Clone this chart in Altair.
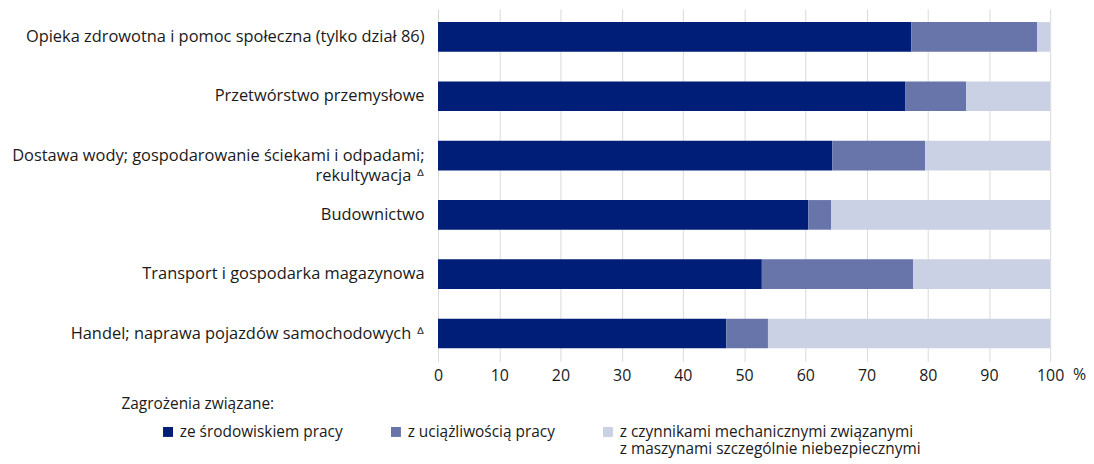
import altair as alt
import pandas as pd

categories = [
    "Opieka zdrowotna i pomoc społeczna (tylko dział 86)",
    "Przetwórstwo przemysłowe",
    "Dostawa wody; gospodarowanie ściekami i odpadami;|rekultywacja ᐞ",
    "Budownictwo",
    "Transport i gospodarka magazynowa",
    "Handel; naprawa pojazdów samochodowych ᐞ",
]
series = [
    "ze środowiskiem pracy",
    "z uciążliwością pracy",
    "z czynnikami mechanicznymi związanymi|z maszynami szczególnie niebezpiecznymi",
]
v_srodowisko = [77.3, 76.3, 64.4, 60.5, 52.9, 47.1]
v_uciazliwosc = [20.6, 10.0, 15.2, 3.7, 24.7, 6.8]
v_mechaniczne = [2.1, 13.7, 20.4, 35.8, 22.4, 46.1]
colors = ["#001E78", "#6775AB", "#CBD1E4"]
x_ticks = [0, 10, 20, 30, 40, 50, 60, 70, 80, 90, 100]

rows = []
for i, c in enumerate(categories):
    for j, (s, vals) in enumerate(zip(series, [v_srodowisko, v_uciazliwosc, v_mechaniczne])):
        rows.append({"cat": c, "series": s, "value": vals[i], "ord": j})
df = pd.DataFrame(rows)

FONT = "Open Sans"
TXT = "#1a1a1a"
W, H = 615, 354

legend_label_expr = (
    "split(datum.label + (indexof(datum.label, '|') < 0 ? '| ' : ''), '|')"
)

bars = alt.Chart(df).mark_bar().encode(
    y=alt.Y("cat:N", sort=categories, title=None,
            scale=alt.Scale(paddingInner=0.5, paddingOuter=0.22),
            axis=alt.Axis(labelExpr="split(datum.label, '|')", labelLimit=500,
                          labelFontSize=16.5, labelFont=FONT, labelColor=TXT,
                          ticks=False, domain=False, labelPadding=14, labelLineHeight=21)),
    x=alt.X("value:Q", stack="zero", title=None,
            scale=alt.Scale(domain=[0, 100], nice=False),
            axis=alt.Axis(values=x_ticks, grid=True, gridColor="#DADADA", ticks=False,
                          domain=False, labelFontSize=16, labelFont=FONT, labelColor=TXT,
                          labelPadding=6, labelFlush=False)),
    color=alt.Color("series:N", sort=series,
                    scale=alt.Scale(domain=series, range=colors),
                    legend=alt.Legend(title=None, orient="none", legendX=-279, legendY=417,
                                      direction="horizontal", columns=3, symbolType="square",
                                      symbolSize=100, symbolStrokeWidth=0, labelFont=FONT,
                                      labelFontSize=15.5, labelColor=TXT, labelLimit=500,
                                      labelExpr=legend_label_expr, labelBaseline="middle",
                                      columnPadding=45, labelOffset=4)),
    order=alt.Order("ord:Q"),
)

pct = alt.Chart(pd.DataFrame({"t": ["%"]})).mark_text(
    font=FONT, fontSize=16, color=TXT, align="left", baseline="top", dx=23
).encode(x=alt.datum(100), y=alt.value(H + 6), text="t:N")

legend_title = alt.Chart(pd.DataFrame({"t": ["Zagrożenia związane:"]})).mark_text(
    font=FONT, fontSize=15.5, color=TXT, align="left", baseline="middle"
).encode(x=alt.value(-318), y=alt.value(397), text="t:N")

chart = alt.layer(bars, pct, legend_title).properties(
    width=W, height=H,
    autosize=alt.AutoSizeParams(type="none"),
    padding={"left": 432, "top": 0, "right": 36, "bottom": 96},
).configure_view(stroke=None)

chart.save("out.html", embed_options={"renderer": "svg", "actions": False})
